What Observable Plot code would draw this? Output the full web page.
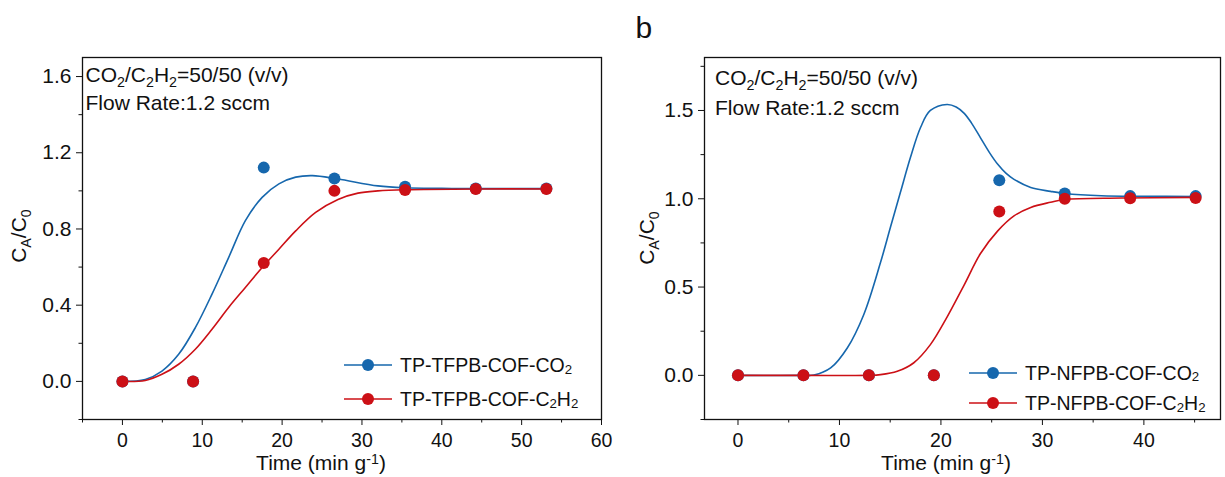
<!DOCTYPE html>
<html>
<head>
<meta charset="utf-8">
<script src="https://cdn.jsdelivr.net/npm/d3@7"></script>
<script src="https://cdn.jsdelivr.net/npm/@observablehq/plot@0.6"></script>
<style>
  body { margin: 0; background: #fff; }
  #wrap { position: relative; width: 1225px; height: 477px; font-family: "Liberation Sans", Arial, sans-serif; color: #111; overflow: hidden; }
  .panel { position: absolute; top: 0; }
  .panel svg { overflow: visible; }
  .txt { position: absolute; white-space: nowrap; font-size: 21px; line-height: 1; }
  .sb { font-size: 0.68em; position: relative; top: 0.32em; }
  .sp { font-size: 0.68em; position: relative; top: -0.45em; }
  .ylab { transform: translate(-50%, -50%) rotate(-90deg); }
  .xlab { transform: translate(-50%, -50%); }
  .leg { position: absolute; display: flex; align-items: center; font-size: 19.5px; line-height: 1.15; white-space: nowrap; }
  .leg svg { margin-right: 6px; }
</style>
</head>
<body>
<div id="wrap"></div>
<script>
// ---------- Data ----------
const blue = "#1667ad";
const red = "#cc1016";

// Panel a (TP-TFPB-COF)
const aTime = [0, 8.85, 17.7, 26.55, 35.4, 44.25, 53.1];
const aCO2 = [0, 0, 1.122, 1.065, 1.022, 1.012, 1.012];
const aC2H2 = [0, 0, 0.622, 1.0, 1.005, 1.01, 1.01];
const aFitTimeCO2 = [0, 2.86, 4.95, 7.04, 9.13, 11.22, 13.3, 15.4, 17.5, 19.6, 21.7, 23.8, 27, 32, 35.4, 40, 45, 53.1];
const aFitCO2 = [0, 0.01, 0.054, 0.142, 0.282, 0.458, 0.65, 0.844, 0.966, 1.037, 1.072, 1.08, 1.062, 1.026, 1.016, 1.013, 1.012, 1.012];
const aFitTimeC2H2 = [0, 2.86, 4.95, 7.04, 9.13, 11.22, 13.3, 15.4, 17.5, 19.6, 21.7, 24.2, 27, 29.5, 32, 35.4, 45, 53.1];
const aFitC2H2 = [0, 0.005, 0.037, 0.09, 0.169, 0.274, 0.388, 0.493, 0.598, 0.694, 0.79, 0.887, 0.955, 0.988, 1.0, 1.006, 1.01, 1.01];
const aXTicks = [0, 10, 20, 30, 40, 50, 60];
const aXMinor = [-5, 5, 15, 25, 35, 45, 55];
const aYTicks = [0, 0.4, 0.8, 1.2, 1.6];
const aYMinor = [-0.2, 0.2, 0.6, 1.0, 1.4];

// Panel b (TP-NFPB-COF)
const bTime = [0, 6.45, 12.9, 19.3, 25.75, 32.2, 38.65, 45.1];
const bCO2 = [0, 0, 0, 0, 1.105, 1.03, 1.015, 1.015];
const bC2H2 = [0, 0, 0, 0, 0.928, 1.0, 1.003, 1.005];
const bFitTimeCO2 = [0, 6.45, 7.49, 9.13, 10.77, 12.4, 14.05, 15.03, 16.0, 17.0, 18.0, 18.96, 20.6, 21.5, 22.27, 23.0, 23.9, 24.8, 25.6, 26.4, 27.2, 28.85, 30.8, 32.2, 35.8, 40, 45.1];
const bFitCO2 = [0, 0, 0.002, 0.042, 0.155, 0.345, 0.64, 0.84, 1.035, 1.235, 1.405, 1.5, 1.534, 1.52, 1.485, 1.43, 1.345, 1.26, 1.195, 1.145, 1.11, 1.064, 1.042, 1.03, 1.017, 1.014, 1.013];
const bFitTimeC2H2 = [0, 6.45, 12.85, 14.05, 15.7, 17.3, 18.96, 20.6, 22.27, 23.9, 25.6, 27.2, 28.85, 30.8, 32.2, 37.8, 45.1];
const bFitC2H2 = [0, 0, 0, 0.004, 0.023, 0.07, 0.174, 0.33, 0.51, 0.69, 0.818, 0.903, 0.951, 0.98, 0.996, 1.004, 1.008];
const bXTicks = [0, 10, 20, 30, 40];
const bXMinor = [5, 15, 25, 35, 45];
const bYTicks = [0, 0.5, 1.0, 1.5];
const bYMinor = [-0.25, 0.25, 0.75, 1.25, 1.75];

const zip = (xs, ys) => xs.map((x, i) => ({x, y: ys[i]}));

function panel(cfg) {
  return Plot.plot({
    width: cfg.width, height: 477,
    marginLeft: cfg.ml, marginRight: cfg.mr, marginTop: 57, marginBottom: 58,
    style: {fontFamily: "'Liberation Sans', Arial, sans-serif", fontSize: "21px", color: "#111", background: "transparent"},
    x: {domain: cfg.xd},
    y: {domain: cfg.yd},
    marks: [
      Plot.axisX({ticks: cfg.xMinor, tickFormat: () => "", tickSize: 3.5, label: null}),
      Plot.axisX({ticks: cfg.xTicks, tickSize: 6, tickPadding: 8, fontSize: 19.5, label: null, tickFormat: d3.format("d")}),
      Plot.axisY({ticks: cfg.yMinor, tickFormat: () => "", tickSize: 3.5, label: null}),
      Plot.axisY({ticks: cfg.yTicks, tickSize: 6, tickPadding: 5, fontSize: 21, label: null, tickFormat: d3.format(".1f")}),
      Plot.line(zip(cfg.fitTC, cfg.fitC), {x: "x", y: "y", stroke: blue, strokeWidth: 1.6, curve: "catmull-rom"}),
      Plot.line(zip(cfg.fitTH, cfg.fitH), {x: "x", y: "y", stroke: red, strokeWidth: 1.6, curve: "catmull-rom"}),
      Plot.dot(zip(cfg.t, cfg.co2), {x: "x", y: "y", r: 6, fill: blue}),
      Plot.dot(zip(cfg.t, cfg.c2h2), {x: "x", y: "y", r: 6, fill: red}),
      Plot.frame({stroke: "#111", strokeWidth: 1.3})
    ]
  });
}

const wrap = document.getElementById("wrap");

const pa = panel({width: 640, ml: 82, mr: 39, xd: [-5, 60], yd: [-0.2, 1.7],
  xTicks: aXTicks, xMinor: aXMinor, yTicks: aYTicks, yMinor: aYMinor,
  t: aTime, co2: aCO2, c2h2: aC2H2,
  fitTC: aFitTimeCO2, fitC: aFitCO2, fitTH: aFitTimeC2H2, fitH: aFitC2H2});
const da = document.createElement("div"); da.className = "panel"; da.style.left = "0px"; da.appendChild(pa); wrap.appendChild(da);

const pb = panel({width: 585, ml: 64, mr: 5, xd: [-3.3, 47.55], yd: [-0.25, 1.8],
  xTicks: bXTicks, xMinor: bXMinor, yTicks: bYTicks, yMinor: bYMinor,
  t: bTime, co2: bCO2, c2h2: bC2H2,
  fitTC: bFitTimeCO2, fitC: bFitCO2, fitTH: bFitTimeC2H2, fitH: bFitC2H2});
const db = document.createElement("div"); db.className = "panel"; db.style.left = "640px"; db.appendChild(pb); wrap.appendChild(db);

function addHTML(html, cls, left, top, extra) {
  const d = document.createElement("div");
  d.className = cls;
  d.style.left = left + "px"; d.style.top = top + "px";
  if (extra) Object.assign(d.style, extra);
  d.innerHTML = html;
  wrap.appendChild(d);
  return d;
}

const swatch = c => `<svg width="50" height="14"><line x1="0" y1="7" x2="48" y2="7" stroke="${c}" stroke-width="1.6"/><circle cx="24" cy="7" r="6" fill="${c}"/></svg>`;

// Panel label and annotations
addHTML("b", "txt", 635.5, 13, {fontSize: "30px"});
const cond = `CO<span class="sb">2</span>/C<span class="sb">2</span>H<span class="sb">2</span>=50/50 (v/v)`;
addHTML(cond, "txt", 85.5, 64);
addHTML("Flow Rate:1.2 sccm", "txt", 85.5, 92);
addHTML(cond, "txt", 715, 67);
addHTML("Flow Rate:1.2 sccm", "txt", 715, 97);

// Axis titles
const ylab = `C<span class="sb">A</span>/C<span class="sb">0</span>`;
const xlab = `Time (min g<span class="sp">-1</span>)`;
addHTML(ylab, "txt ylab", 18, 236);
addHTML(ylab, "txt ylab", 646, 238);
addHTML(xlab, "txt xlab", 321, 462);
addHTML(xlab, "txt xlab", 946, 462);

// Legends
addHTML(swatch(blue) + `TP-TFPB-COF-CO<span class="sb">2</span>`, "leg", 344, 354);
addHTML(swatch(red) + `TP-TFPB-COF-C<span class="sb">2</span>H<span class="sb">2</span>`, "leg", 344, 388);
addHTML(swatch(blue) + `TP-NFPB-COF-CO<span class="sb">2</span>`, "leg", 969, 361.5);
addHTML(swatch(red) + `TP-NFPB-COF-C<span class="sb">2</span>H<span class="sb">2</span>`, "leg", 969, 392);
</script>
</body>
</html>
